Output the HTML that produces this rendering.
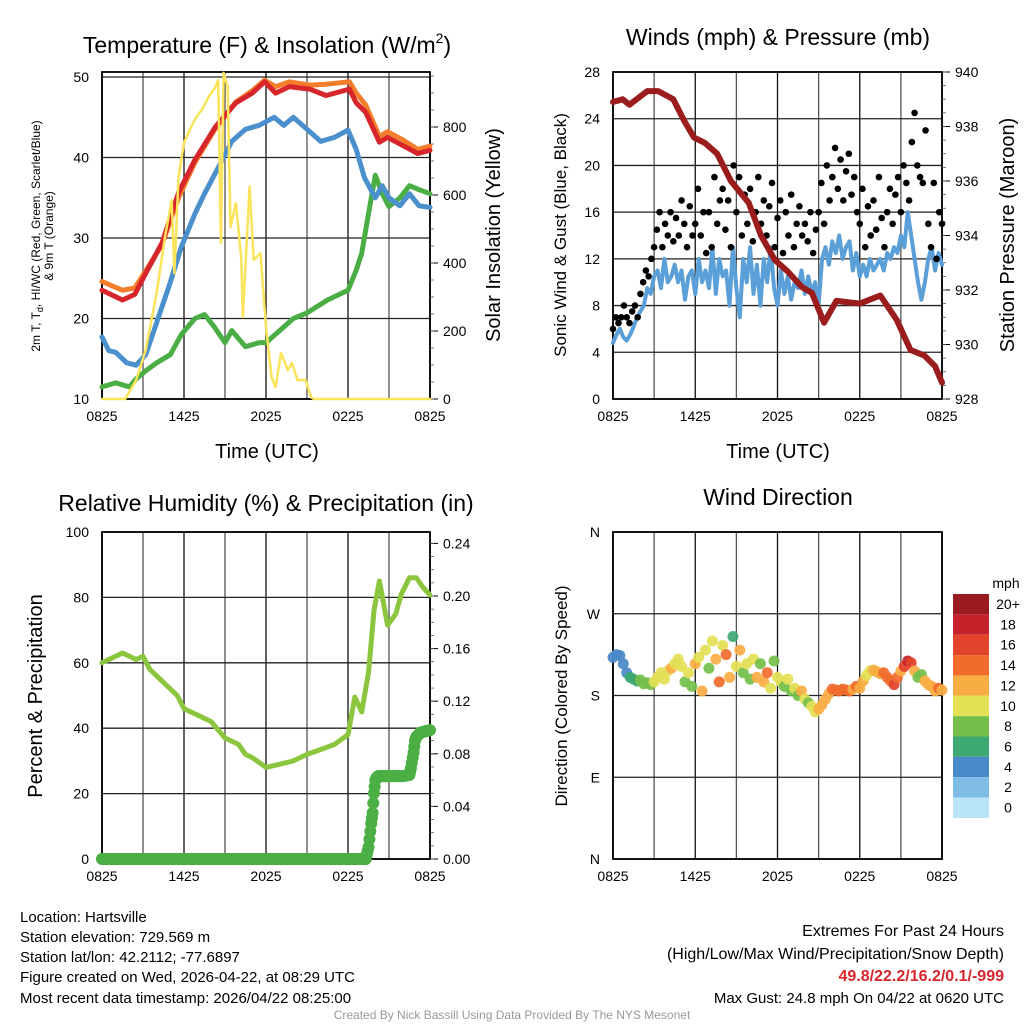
<!DOCTYPE html>
<html><head><meta charset="utf-8"><style>
html,body{margin:0;padding:0;background:#fff;}
svg{display:block;font-family:"Liberation Sans",sans-serif;}
</style></head><body>
<svg id="fig" width="1024" height="1024" viewBox="0 0 1024 1024">
<rect x="0" y="0" width="1024" height="1024" fill="#fff"/>
<text x="267" y="53" font-size="23" text-anchor="middle">Temperature (F) &amp; Insolation (W/m<tspan font-size="14" dy="-10">2</tspan><tspan dy="10">)</tspan></text>
<text x="778" y="45" font-size="23" text-anchor="middle">Winds (mph) &amp; Pressure (mb)</text>
<text x="266" y="511" font-size="23" text-anchor="middle">Relative Humidity (%) &amp; Precipitation (in)</text>
<text x="778" y="505" font-size="23" text-anchor="middle">Wind Direction</text>

<g font-size="12" text-anchor="middle">
<text transform="translate(40,236) rotate(-90)">2m T, T<tspan font-size="9" dy="3">d</tspan><tspan dy="-3">, HI/WC (Red, Green, Scarlet/Blue)</tspan></text>
<text transform="translate(53,236) rotate(-90)">&amp; 9m T (Orange)</text>
</g>
<text transform="translate(500,235) rotate(-90)" font-size="20" text-anchor="middle">Solar Insolation (Yellow)</text>
<text transform="translate(566,235) rotate(-90)" font-size="17" text-anchor="middle">Sonic Wind &amp; Gust (Blue, Black)</text>
<text transform="translate(1014,235) rotate(-90)" font-size="20" text-anchor="middle">Station Pressure (Maroon)</text>
<text transform="translate(42,696) rotate(-90)" font-size="20" text-anchor="middle">Percent &amp; Precipitation</text>
<text transform="translate(567,696) rotate(-90)" font-size="17" text-anchor="middle">Direction (Colored By Speed)</text>
<text x="267" y="458" font-size="20" text-anchor="middle">Time (UTC)</text>
<text x="778" y="458" font-size="20" text-anchor="middle">Time (UTC)</text>

<g font-size="15">
<text x="20" y="922">Location: Hartsville</text>
<text x="20" y="942">Station elevation: 729.569 m</text>
<text x="20" y="962">Station lat/lon: 42.2112; -77.6897</text>
<text x="20" y="982">Figure created on Wed, 2026-04-22, at 08:29 UTC</text>
<text x="20" y="1003">Most recent data timestamp: 2026/04/22 08:25:00</text>
</g>
<g font-size="16" text-anchor="end">
<text x="1004" y="936">Extremes For Past 24 Hours</text>
<text x="1004" y="959">(High/Low/Max Wind/Precipitation/Snow Depth)</text>
<text x="1004" y="981" fill="#d7262b" font-weight="bold">49.8/22.2/16.2/0.1/-999</text>
<text x="1004" y="1003" font-size="15">Max Gust: 24.8 mph On 04/22 at 0620 UTC</text>
</g>
<text x="512" y="1019" font-size="12" fill="#999" text-anchor="middle">Created By Nick Bassill Using Data Provided By The NYS Mesonet</text>
</svg>
<script>
// ---------- data ----------
const xTickLabels = ["0825","1425","2025","0225","0825"];
const tempTicks = [10,20,30,40,50];
const insolTicks = [0,200,400,600,800];
const windTicks = [0,4,8,12,16,20,24,28];
const presTicks = [928,930,932,934,936,938,940];
const rhTicks = [0,20,40,60,80,100];
const precipTicks = [0,0.04,0.08,0.12,0.16,0.20,0.24];
const dirTicks = [0,90,180,270,360];
const dirTickLabels = ["N","E","S","W","N"];

const redT = [0,1.5,2.4,3.2,4.4,5.6,6.8,8.3,9.8,11,11.9,12.7,13.7,15.2,16.4,18.1,18.6,19.3,20.3,20.9,22,23.1,24];
const redV = [23.5,22.3,23,25.6,29.4,35.6,39.7,43.8,46.8,48,49.4,48,48.8,48.5,47.7,48.5,46.8,45.6,41.9,42.5,41.5,40.5,40.9];
const orangeT = [0,1.5,2.4,3.2,4.4,5.6,6.8,8.3,9.8,11,11.9,12.7,13.7,15.2,16.4,18.1,18.6,19.3,20.3,20.9,22,23.1,24];
const orangeV = [24.6,23.5,23.8,25.9,29.2,35,39.4,43.6,46.9,48.3,49.6,48.8,49.4,49,49.1,49.4,48,46.5,42.6,43.2,42.2,41,41.4];
const dewT = [0,0.5,1,1.8,2.5,3.2,4,5,5.8,6.8,7.5,8.8,9.5,10.5,11.5,12.6,13.3,14,15,16,17,18,18.6,19.2,20,20.5,21,21.8,22.5,23.2,24];
const dewV = [17.7,16,15.8,14.5,14.2,15.5,19.5,24.5,28.9,33,35.5,39.7,42,43.5,44,45,44,45,43.5,42,42.5,43.4,41,37.5,35,36.5,35,34,35.5,34,33.8];
const greenT = [0,1,2,2.5,3.2,4,5,5.8,6.8,7.5,8.2,9,9.5,10.5,11.5,12,13,14,15,16.5,18,18.6,19,19.5,20,20.5,21,21.8,22.5,23.2,24];
const greenV = [11.5,12,11.5,12.5,13.5,14.5,15.5,18,20,20.5,19,17,18.5,16.5,17,17,18.5,20,20.7,22.3,23.5,26,28.1,33,37.8,35.5,33.9,35,36.5,36,35.5];
const solT = [0,1.7,2.5,3.2,4,4.6,5.1,5.3,5.6,6,6.4,6.9,7.3,7.8,8.3,8.5,8.7,8.9,9.2,9.4,9.8,10.2,10.3,10.8,11.1,11.6,12,12.4,12.7,13.1,13.6,13.9,14.3,14.9,15.3,15.5,24];
const solV = [0,0,56,144,312,476,585,370,653,753,791,829,850,888,918,938,459,959,918,506,576,409,241,624,409,429,212,65,35,135,85,106,56,56,5,0,0];

const windV = [4.8,5.5,6,5.3,5.0,
 5.5,6.2,7,7.5, 8,9.5,9,10.5, 11,9.5,12,10, 10.5,11.5,10,11, 8.5,10.5,11,9,
 12,10,11,9.5, 13,9,12,10.5, 11,8,13,9.5, 7,12,10,13, 9,11.5,8,12,
 10,13,9.5,8, 11,9,10.5,8.5, 10,9.5,11,9, 10.5,9,10,8, 12,13,11.5,13.5,
 12.5,14,12,13, 13.5,11,12.5,10.5, 11.5,10.5,12,11, 11.5,12,11,12.5, 12,13,12.5,14,
 13,16,14,12, 10,8.5,10,12, 13,11,12.5,11.5];
const gustV = [6,7,6.5,7,8, 7,6.5,7.5,8,7, 9,10,11,10.5,12, 13,14.5,16,13,15, 14,16,13.5,15.5,14,
 17,15,13,16.5,14, 15,18,14,16,12.5, 16,13,19,15,17, 18,14.5,17,13,20, 16,19,14,17.5,15,
 18,13.5,16,19,15, 17,14,16.5,18.5,13, 15.5,17,12.5,16,14, 17.5,13,15,16.5,14, 15,13.5,16,12.5,14.5,
 16,18.5,15,20,17, 19,21.5,18,20.5,17, 19.5,21,17.5,19,16, 15,18,13,16.5,14, 17,14.5,19,15.5,13,
 16,18,15,17.5,19, 16,20,18.5,17,22, 24.5,20,19,18.5,23, 15,13,18.5,12,16, 15];
const presT = [0,0.7,1.2,2.5,3.3,4.4,5.2,5.9,6.7,7.6,8.6,9.9,10.8,11.8,12.7,13.8,14.5,15.4,16.3,18,19.5,20.7,21.7,22.7,23.5,24];
const presV = [938.9,939,938.8,939.3,939.3,939,938.2,937.6,937.4,937,936,935.2,934,933.1,932.7,932.1,931.9,930.8,931.6,931.5,931.8,930.9,929.8,929.6,929.2,928.6];

const rhT = [0,1,1.5,2.5,3,3.5,4.5,5.5,6,7,8,9,10,10.5,11,12,13,14,15,16,17,18,18.5,19,19.5,19.9,20.3,20.9,21.5,21.9,22.5,23,23.5,24];
const rhV = [60,62,63,61,62,58,54,50,46,44,42,37,35,32,31,28,29,30,32,33.5,35,38,49.5,45,57,76,85,71.5,75,81,86,86,83,80.7];
const precT = [0,19.3,19.5,19.7,19.8,19.9,20.0,20.1,20.2,21,22,22.5,22.6,22.8,22.9,23,23.3,23.6,24];
const precV = [0,0,0.009,0.027,0.035,0.05,0.06,0.062,0.063,0.063,0.063,0.064,0.069,0.081,0.09,0.093,0.096,0.097,0.098];

const dirV = [222,225,224,215,205, 200,198,196,197, 193,194,192,195, 200,205,198,207, 210,215,220,212,
 195,205,190,215, 222,185,230,210, 240,220,195,235, 225,200,245,212, 230,205,215,198, 220,200,215,195,
 205,188,218,200, 195,190,198,185, 188,180,185,176, 172,168,162,165, 170,176,182,187, 186,185,187,186,
 185,187,190,188, 196,202,207,208, 206,204,205,200, 196,192,200,207, 212,218,216,207, 200,203,196,192, 190,185,188,186];
const dirSpd = [4.5,4.5,4.5,5,5, 6,7,6.5,8, 8,9,8,10, 10,11,10.5,10, 12,10,11,10.5,
 8,10,9,12, 10,13,11,9, 10.5,12.5,15,11, 14,12,6,10, 12,9,11.5,8, 10,12,9,13,
 14,11,9,10.5, 10,9,11,8, 10,9,12,10.5, 9,10,11,13, 12,13,12,14, 14,14.5,15,14,
 14,13,14.5,13, 12,11,10.5,12.5, 12,13,14,15, 14,16,15,13, 17,18,16.5,12, 9,8.5,13,12.5, 13,12,14,12];
const speedLegendLabels = ["20+","18","16","14","12","10","8","6","4","2","0"];
const speedColors = ["#b9e3f7","#80bde6","#4a89c8","#3ea873","#74bf4a","#e3e055","#f8ad43","#f16b2d","#e2432b","#c4222a","#9a1b1f"];

// ---------- helpers ----------
const NS = 'http://www.w3.org/2000/svg';
const svg = document.getElementById('fig');
function el(tag, attrs, parent){ const e=document.createElementNS(NS,tag); for(const k in attrs) e.setAttribute(k,attrs[k]); (parent||svg).appendChild(e); return e; }
function lin(d0,d1,r0,r1){ return v => r0 + (v-d0)*(r1-r0)/(d1-d0); }

const P = {
  temp:{x0:102,x1:430,y0:72,y1:399},
  wind:{x0:613,x1:942,y0:72,y1:399},
  rh:{x0:102,x1:430,y0:532,y1:859},
  dir:{x0:613,x1:942,y0:532,y1:859}
};
const xT = lin(0,24,P.temp.x0,P.temp.x1);
const xW = lin(0,24,P.wind.x0,P.wind.x1);
const yTemp = lin(10,50,399,77);
const yIns = lin(0,800,399,127);
const yWind = lin(0,28,399,72);
const yPres = lin(928,940,399,72);
const yRH = lin(0,100,859,532);
const yPrec = lin(0,0.2,859,596);
const yDir = lin(0,360,859,532);

function frame(p, name, xs, hTicks, yf){
  const g = el('g',{});
  
  
  for(let h=0; h<=24; h+=3){
    const ln = el('line',{x1:xs(h),x2:xs(h),y1:p.y0,y2:p.y1,stroke:(h%6===0)?'#111':'#555','stroke-width':1.3},g);
    
    
  }
  hTicks.forEach(v=>{
    const y=yf(v);
    const ln = el('line',{x1:p.x0,x2:p.x1,y1:y,y2:y,stroke:'#222','stroke-width':1.3},g);
    
    
  });
  const b = el('rect',{x:p.x0,y:p.y0,width:p.x1-p.x0,height:p.y1-p.y0,fill:'none',stroke:'#000','stroke-width':1.8});
  
  
  xTickLabels.forEach((s,i)=>{
    const t = el('text',{x:xs(i*6),y:p.y1+22,'font-size':14,'text-anchor':'middle'});
    t.textContent = s;
    
    
  });
}
function leftLabels(p,name,ticks,yf,labels){
  ticks.forEach((v,i)=>{
    const t = el('text',{x:p.x0-13,y:yf(v)+5,'font-size':14,'text-anchor':'end'});
    t.textContent = labels?labels[i]:String(v);
    
    
  });
}
function rightAxis(p,name,ticks,yf,fmt,minorStep,minorFrom,minorTo){
  ticks.forEach(v=>{
    const t = el('text',{x:p.x1+13,y:yf(v)+5,'font-size':14,'text-anchor':'start'});
    t.textContent = fmt(v);
    
    
    const tk = el('line',{x1:p.x1,x2:p.x1+8,y1:yf(v),y2:yf(v),stroke:'#000','stroke-width':1});
    
    
  });
  for(let v=minorFrom; v<=minorTo+1e-9; v+=minorStep){
    const y=yf(v); if(y<p.y0-0.5) continue;
    const tk = el('line',{x1:p.x1,x2:p.x1+4,y1:y,y2:y,stroke:'#555','stroke-width':0.8});
    
    
  }
}
function line(ts,vs,xs,yf,color,w,name){
  const pts = ts.map((t,i)=>xs(t).toFixed(1)+','+yf(vs[i]).toFixed(1)).join(' ');
  const pl = el('polyline',{points:pts,fill:'none',stroke:color,'stroke-width':w,'stroke-linejoin':'round','stroke-linecap':'round'});
  
  
}
function clip(id,p){
  const cp = el('clipPath',{id:id});
  el('rect',{x:p.x0,y:p.y0,width:p.x1-p.x0,height:p.y1-p.y0},cp);
}

// ---------- temperature panel ----------
frame(P.temp,'temperature',xT,tempTicks,yTemp);
leftLabels(P.temp,'temperature',tempTicks,yTemp);
rightAxis(P.temp,'insolation',insolTicks,yIns,v=>String(v),50,0,950);
line(greenT,greenV,xT,yTemp,'#4bae45',5,'dewpoint-green-line');
line(dewT,dewV,xT,yTemp,'#4a90cc',5,'heat-index-blue-line');
line(orangeT,orangeV,xT,yTemp,'#f47e2b',5,'temperature-9m-orange-line');
line(redT,redV,xT,yTemp,'#d7262b',5,'temperature-2m-red-line');
line(solT,solV,xT,yIns,'#fbe35a',2.5,'solar-insolation-line');

// ---------- wind panel ----------
frame(P.wind,'wind',xW,windTicks,yWind);
leftLabels(P.wind,'wind',windTicks,yWind);
rightAxis(P.wind,'pressure',presTicks,yPres,v=>String(v),0.5,928,940);
const windT = windV.map((v,i)=>i*0.25);
line(windT,windV,xW,yWind,'#5a9fd8',4,'sonic-wind-line');
gustV.forEach((v,i)=>{
  const c = el('circle',{cx:xW(i*0.2),cy:yWind(v),r:3.3,fill:'#000'});
  
  
});
line(presT,presV,xW,yPres,'#9b1c1c',6,'station-pressure-line');

// ---------- humidity panel ----------
frame(P.rh,'humidity',xT,rhTicks,yRH);
leftLabels(P.rh,'humidity',rhTicks,yRH);
rightAxis(P.rh,'precipitation',precipTicks,yPrec,v=>v.toFixed(2),0.01,0,0.24);
line(rhT,rhV,xT,yRH,'#8cc63f',5,'relative-humidity-line');
// precipitation dots (dense sampling along the step data)
for(let i=0;i<precT.length-1;i++){
  const t0=precT[i],t1=precT[i+1],n=Math.max(1,Math.ceil((t1-t0)/0.08));
  for(let k=0;k<n;k++){
    const t=t0+(t1-t0)*k/n, v=precV[i]+(precV[i+1]-precV[i])*k/n;
    const c = el('circle',{cx:xT(t),cy:yPrec(v),r:6,fill:'#4caf45'});
    
    
  }
}
{ const c = el('circle',{cx:xT(24),cy:yPrec(precV[precV.length-1]),r:6,fill:'#4caf45'});
  
   }

// ---------- wind direction panel ----------
frame(P.dir,'direction',xW,dirTicks,yDir);
leftLabels(P.dir,'direction',dirTicks,yDir,dirTickLabels);
dirV.forEach((d,i)=>{
  const idx = Math.min(10, Math.floor(dirSpd[i]/2));
  const c = el('circle',{cx:xW(i*0.25),cy:yDir(d),r:5.5,fill:speedColors[idx],'fill-opacity':0.92});
  
  
});
// legend
{ const t = el('text',{x:1006,y:588,'font-size':14,'text-anchor':'middle'});
  t.textContent='mph';
  
   }
speedLegendLabels.forEach((s,i)=>{
  const y = 594 + i*20.36;
  const r = el('rect',{x:953,y:y,width:36,height:20.36,fill:speedColors[10-i]});
  
  
  const t = el('text',{x:1008,y:y+15,'font-size':14,'text-anchor':'middle'});
  t.textContent = s;
  
  
});
</script>
</body></html>
